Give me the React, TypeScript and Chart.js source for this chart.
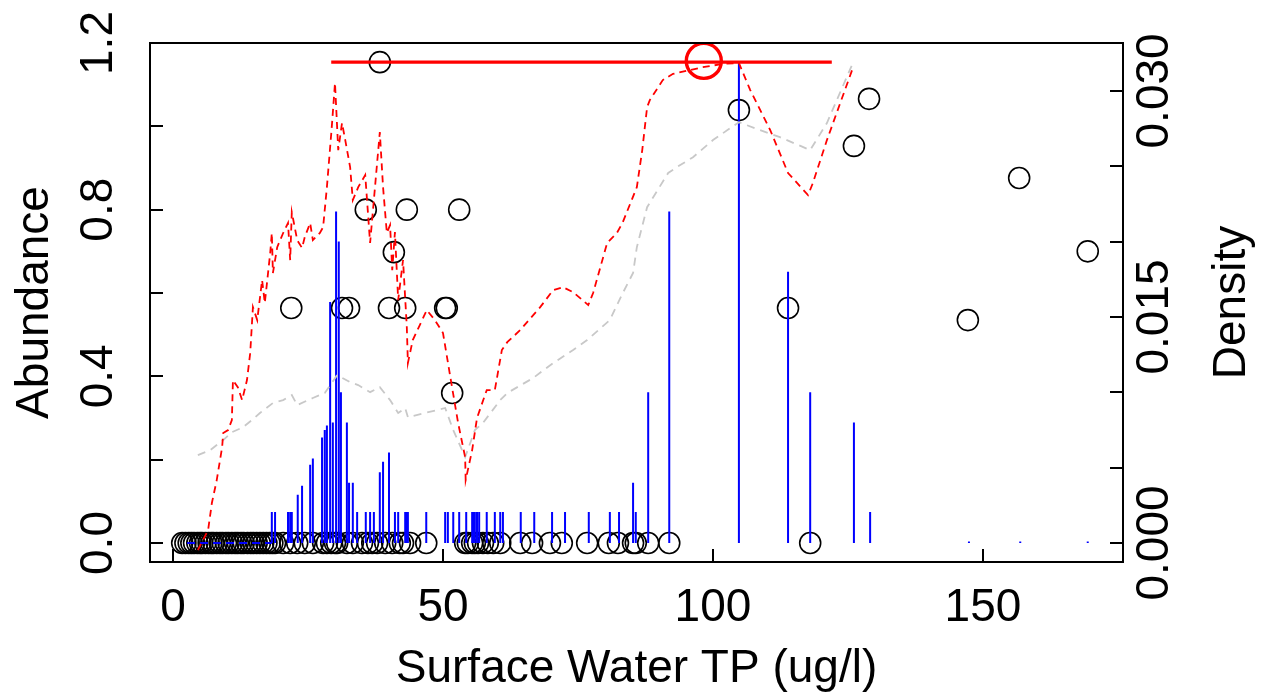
import React, { useEffect, useRef } from "react";
import Chart from "chart.js/auto";

// observed samples: surface water TP vs abundance
const zeroTP = [
  1.7, 2.3, 2.9, 3.4, 3.9, 4.5, 5.0, 5.4, 6.0, 6.6, 7.1, 7.5, 8.1, 8.7, 9.2, 9.8,
  10.3, 10.9, 11.5, 12.0, 12.6, 13.1, 13.8, 14.4, 14.9, 15.5, 16.1, 16.7, 17.3,
  17.9, 18.4, 18.9, 20.4, 21.7, 23.0, 24.4, 25.9, 27.8, 28.5, 29.3, 30.0, 30.4,
  32.2, 33.3, 35.0, 36.1, 36.9, 37.8, 39.3, 40.6, 42.0, 42.6, 43.9, 46.9, 54.1,
  54.6, 55.4, 55.9, 56.5, 57.4, 58.3, 59.3, 60.6, 64.3, 66.5, 69.8, 72.0, 76.7,
  80.7, 82.4, 85.2, 85.7, 88.0, 91.9, 118.0,
];
const presentTP = [
  38.3, 35.7, 43.3, 53.0, 40.9, 21.9, 31.3, 32.6, 40.0, 43.0, 50.4, 50.7, 51.7,
  104.8, 113.9, 126.1, 128.9, 147.2, 156.7, 169.4,
];
const presentAbund = [
  1.154, 0.8, 0.8, 0.8, 0.698, 0.564, 0.564, 0.564, 0.564, 0.564, 0.564, 0.564,
  0.36, 1.039, 0.564, 0.953, 1.066, 0.535, 0.876, 0.7,
];

// density spikes (right axis)
const densTP = [
  18.3, 18.9, 21.3, 21.7, 22.0, 23.1, 23.9, 25.4, 25.9, 27.6, 28.1, 28.5, 29.1,
  29.6, 30.2, 30.7, 31.1, 32.2, 32.6, 33.3, 34.1, 35.7, 36.5, 37.2, 38.3, 38.9,
  40.0, 41.1, 41.7, 43.0, 43.3, 43.5, 46.9, 50.4, 50.9, 51.9, 53.0, 54.3, 55.4,
  55.6, 55.9, 56.3, 56.7, 58.1, 59.6, 60.6, 61.1, 64.4, 66.9, 70.2, 72.6, 77.0,
  80.9, 82.6, 85.2, 85.7, 88.0, 91.9, 104.8, 113.9, 118.0, 126.1, 129.1, 147.4,
  156.9, 169.4,
];
const densVal = [
  0.00206, 0.00206, 0.00206, 0.00206, 0.00206, 0.0032, 0.0038, 0.0052, 0.0056,
  0.007, 0.0075, 0.0078, 0.016, 0.008, 0.022, 0.02, 0.01, 0.008, 0.004, 0.004,
  0.00206, 0.00206, 0.00206, 0.00206, 0.0047, 0.0054, 0.006, 0.00206, 0.00206,
  0.00206, 0.00206, 0.00206, 0.00206, 0.00206, 0.00206, 0.00206, 0.00206,
  0.00206, 0.00206, 0.00206, 0.00206, 0.00206, 0.00206, 0.00206, 0.00206,
  0.00206, 0.00206, 0.00206, 0.00206, 0.00206, 0.00206, 0.00206, 0.00206,
  0.00206, 0.004, 0.00206, 0.01, 0.022, 0.0319, 0.018, 0.01, 0.008, 0.00206,
  0.0001, 0.0001, 0.0001,
];
const zeroDensFrom = 2.6;
const zeroDensTo = 18.3;

// fitted response (red dashed)
const fitTP = [
  4.6, 6.5, 7.2, 8.1, 9.1, 9.3, 10.2, 10.9, 11.1, 12.0, 12.8, 13.7, 14.3, 14.8,
  15.6, 16.5, 17.0, 18.0, 18.3, 18.5, 19.3, 20.4, 21.3, 21.7, 22.0, 23.0, 23.9,
  24.4, 25.4, 25.9, 27.2, 27.8, 28.5, 29.4, 30.0, 30.6, 31.3, 31.9, 32.8, 33.3,
  34.3, 35.6, 36.5, 38.3, 38.9, 39.6, 40.2, 40.6, 41.1, 41.7, 42.6, 43.3, 43.5,
  44.4, 47.0, 48.5, 50.0, 51.7, 52.8, 54.1, 54.2, 55.4, 56.3, 58.1, 59.6, 60.9,
  61.9, 64.3, 68.0, 70.4, 72.2, 74.1, 76.9, 77.8, 80.4, 82.2, 83.3, 85.9, 86.9,
  87.8, 88.3, 90.7, 92.6, 95.7, 98.1, 101.9, 104.8, 106.9, 110.6, 113.9, 117.6,
  118.5, 121.1, 125.9,
];
const fitAbund = [
  -0.017, 0.031, 0.096, 0.151, 0.23, 0.264, 0.271, 0.295, 0.391, 0.374, 0.343,
  0.391, 0.456, 0.566, 0.535, 0.631, 0.576, 0.696, 0.744, 0.648, 0.71, 0.744,
  0.768, 0.679, 0.794, 0.727, 0.708, 0.734, 0.768, 0.727, 0.744, 0.758, 0.854,
  0.998, 1.104, 0.943, 1.008, 0.967, 0.902, 0.823, 0.854, 0.883, 0.72, 0.986,
  0.854, 0.744, 0.763, 0.655, 0.746, 0.583, 0.679, 0.518, 0.432, 0.487, 0.559,
  0.535, 0.504, 0.372, 0.288, 0.206, 0.151, 0.223, 0.3, 0.367, 0.367, 0.463,
  0.482, 0.511, 0.566, 0.607, 0.614, 0.602, 0.571, 0.6, 0.72, 0.744, 0.77,
  0.854, 0.943, 1.046, 1.063, 1.111, 1.126, 1.135, 1.142, 1.15, 1.152, 1.087,
  0.991, 0.888, 0.835, 0.864, 0.967, 1.14,
];

// reference response (grey dashed)
const baseTP = [
  4.6, 6.9, 9.3, 10.9, 13.0, 14.6, 16.1, 18.5, 20.4, 22.0, 23.0, 25.9, 28.1,
  30.4, 32.8, 34.3, 36.5, 38.3, 40.2, 41.7, 43.0, 43.5, 50.4, 51.9, 54.1, 55.9,
  57.4, 60.6, 61.9, 66.7, 70.4, 74.1, 76.7, 80.9, 83.1, 85.2, 85.9, 87.8, 91.7,
  93.3, 96.3, 100.0, 104.8, 108.7, 112.4, 118.0, 121.1, 125.9,
];
const baseAbund = [
  0.211, 0.223, 0.247, 0.266, 0.278, 0.295, 0.312, 0.336, 0.343, 0.355, 0.331,
  0.348, 0.36, 0.403, 0.386, 0.379, 0.362, 0.374, 0.343, 0.312, 0.324, 0.302,
  0.324, 0.271, 0.206, 0.271, 0.288, 0.343, 0.36, 0.396, 0.432, 0.463, 0.487,
  0.535, 0.595, 0.648, 0.71, 0.806, 0.888, 0.902, 0.926, 0.967, 1.01, 0.991,
  0.974, 0.943, 1.008, 1.152,
];

// optimum and tolerance range
const optTP = 98.3;
const optAbund = 1.157;
const tolLow = 29.3;
const tolHigh = 122.0;

const xTicks = [0, 50, 100, 150];
const abundTicks = [0, 0.2, 0.4, 0.6, 0.8, 1.0, 1.2];
const abundLabels = ["0.0", "", "0.4", "", "0.8", "", "1.2"];
const densTicks = [0, 0.005, 0.01, 0.015, 0.02, 0.025, 0.03];
const densLabels = ["0.000", "", "", "0.015", "", "", "0.030"];

const FONT = '46px "Liberation Sans", Arial, Helvetica, sans-serif';

const framePlugin = {
  id: "frame",
  afterDraw(chart: any) {
    const { ctx, chartArea: a, scales } = chart;
    const x = scales.x;
    const yA = scales.yA;
    const yD = scales.yD;
    const tick = 13;
    ctx.save();
    ctx.strokeStyle = "#000";
    ctx.fillStyle = "#000";
    ctx.lineWidth = 2;
    ctx.strokeRect(a.left, a.top, a.right - a.left, a.bottom - a.top);
    ctx.beginPath();
    xTicks.forEach((v) => {
      const px = Math.round(x.getPixelForValue(v));
      ctx.moveTo(px, a.bottom);
      ctx.lineTo(px, a.bottom - tick);
    });
    abundTicks.forEach((v) => {
      const py = Math.round(yA.getPixelForValue(v));
      ctx.moveTo(a.left, py);
      ctx.lineTo(a.left + tick, py);
    });
    densTicks.forEach((v) => {
      const py = Math.round(yD.getPixelForValue(v));
      ctx.moveTo(a.right, py);
      ctx.lineTo(a.right - tick, py);
    });
    ctx.stroke();

    ctx.font = FONT;
    ctx.textAlign = "center";
    ctx.textBaseline = "alphabetic";
    xTicks.forEach((v) => {
      ctx.fillText(String(v), x.getPixelForValue(v), 621);
    });
    ctx.fillText("Surface Water TP (ug/l)", (a.left + a.right) / 2, 682);

    const vText = (t: string, bx: number, cy: number) => {
      ctx.save();
      ctx.translate(bx, cy);
      ctx.rotate(-Math.PI / 2);
      ctx.fillText(t, 0, 0);
      ctx.restore();
    };
    abundTicks.forEach((v, i) => {
      if (abundLabels[i]) vText(abundLabels[i], 112, yA.getPixelForValue(v));
    });
    densTicks.forEach((v, i) => {
      if (densLabels[i]) vText(densLabels[i], 1168, yD.getPixelForValue(v));
    });
    const midY = (a.top + a.bottom) / 2;
    vText("Abundance", 48, midY);
    vText("Density", 1245, midY);
    ctx.restore();
  },
};

const App: React.FC = () => {
  const canvasRef = useRef<HTMLCanvasElement>(null);
  const chartRef = useRef<Chart | null>(null);

  useEffect(() => {
    document.body.style.margin = "0";
    const ctx = canvasRef.current?.getContext("2d");
    if (!ctx) return;
    if (chartRef.current) chartRef.current.destroy();

    const circles = [
      ...zeroTP.map((t) => ({ x: t, y: 0 })),
      ...presentTP.map((t, i) => ({ x: t, y: presentAbund[i] })),
    ];
    const spikes: { x: number; y: number | null }[] = [];
    densTP.forEach((t, i) => {
      spikes.push({ x: t, y: 0 }, { x: t, y: densVal[i] }, { x: t, y: null });
    });

    chartRef.current = new Chart(ctx, {
      type: "scatter",
      data: {
        datasets: [
          {
            type: "scatter",
            data: circles,
            yAxisID: "yA",
            pointStyle: "circle",
            pointRadius: 10.5,
            pointBorderWidth: 1.6,
            pointBorderColor: "#000",
            pointBackgroundColor: "rgba(0,0,0,0)",
            order: 6,
          },
          {
            type: "line",
            data: [
              { x: zeroDensFrom, y: 0 },
              { x: zeroDensTo, y: 0 },
            ],
            yAxisID: "yD",
            borderColor: "#0000ff",
            borderWidth: 2,
            borderDash: [8, 5],
            pointRadius: 0,
            order: 5,
          },
          {
            type: "line",
            data: spikes,
            yAxisID: "yD",
            borderColor: "#0000ff",
            borderWidth: 2,
            pointRadius: 0,
            spanGaps: false,
            order: 5,
          },
          {
            type: "line",
            data: baseTP.map((t, i) => ({ x: t, y: baseAbund[i] })),
            yAxisID: "yA",
            borderColor: "#c8c8c8",
            borderWidth: 1.8,
            borderDash: [8, 6],
            pointRadius: 0,
            order: 4,
          },
          {
            type: "line",
            data: fitTP.map((t, i) => ({ x: t, y: fitAbund[i] })),
            yAxisID: "yA",
            borderColor: "#ff0000",
            borderWidth: 1.8,
            borderDash: [7, 5],
            pointRadius: 0,
            order: 3,
          },
          {
            type: "line",
            data: [
              { x: tolLow, y: optAbund - 0.003 },
              { x: tolHigh, y: optAbund - 0.003 },
            ],
            yAxisID: "yA",
            borderColor: "#ff0000",
            borderWidth: 3.2,
            pointRadius: 0,
            order: 2,
          },
          {
            type: "scatter",
            data: [{ x: optTP, y: optAbund }],
            yAxisID: "yA",
            pointStyle: "circle",
            pointRadius: 17.5,
            pointBorderWidth: 3.4,
            pointBorderColor: "#ff0000",
            pointBackgroundColor: "rgba(0,0,0,0)",
            order: 1,
          },
        ],
      },
      options: {
        responsive: false,
        animation: false,
        events: [],
        layout: { padding: { left: 150, right: 144, top: 43, bottom: 134 } },
        plugins: { legend: { display: false }, tooltip: { enabled: false } },
        scales: {
          x: { type: "linear", display: false, min: -4.26, max: 175.93 },
          yA: { type: "linear", display: false, position: "left", min: -0.0456, max: 1.2 },
          yD: { type: "linear", display: false, position: "right", min: -0.00126, max: 0.03318 },
        },
      },
      plugins: [framePlugin],
    });

    return () => {
      if (chartRef.current) {
        chartRef.current.destroy();
        chartRef.current = null;
      }
    };
  }, []);

  return (
    <div style={{ width: 1267, height: 696, background: "#fff" }}>
      <canvas ref={canvasRef} width={1267} height={696} style={{ display: "block" }} />
    </div>
  );
};

export default App;
